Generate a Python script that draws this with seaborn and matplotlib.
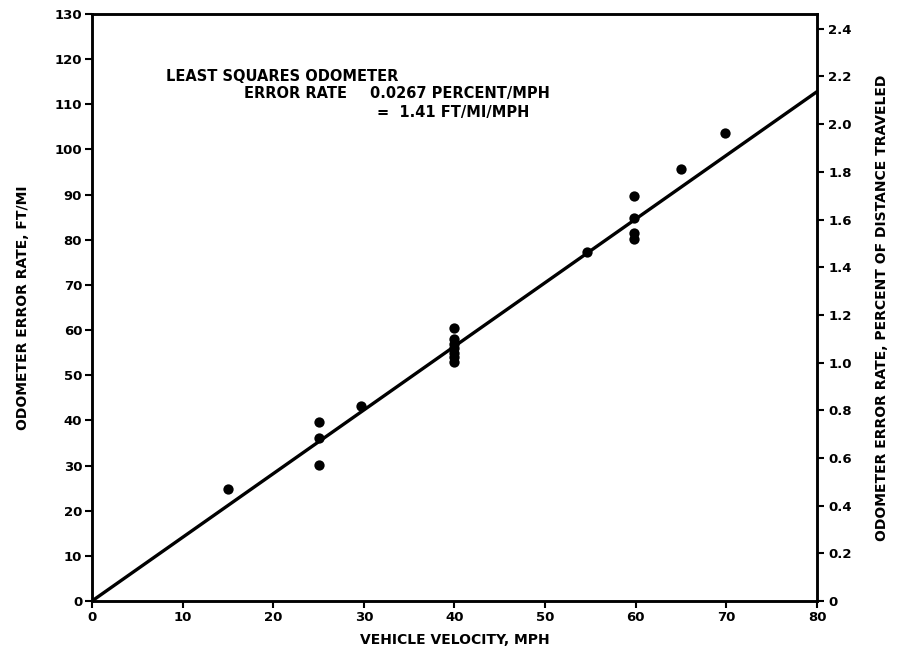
import numpy as np
import pandas as pd
import seaborn as sns
import matplotlib
matplotlib.use('Agg')
import matplotlib.pyplot as plt
from matplotlib.ticker import FuncFormatter

velocity = [15, 25, 25, 25, 29.7, 40, 40, 40, 40, 40, 40, 40,
            54.6, 59.8, 59.8, 59.8, 59.8, 65, 69.8]
error_ft_mi = [24.8, 39.6, 36.0, 30.2, 43.2, 60.4, 58, 57, 56, 55, 54, 53,
               77.2, 89.7, 84.8, 81.5, 80.2, 95.6, 103.7]

# least squares line (1.41 ft/mi/mph)
fit_velocity = [0, 80]
fit_error = [0, 112.8]

x_ticks = [0, 10, 20, 30, 40, 50, 60, 70, 80]
left_ticks = list(range(0, 131, 10))
right_ticks = [0, 0.2, 0.4, 0.6, 0.8, 1.0, 1.2, 1.4, 1.6, 1.8, 2.0, 2.2, 2.4]
FT_PER_PERCENT = 52.8

sns.set_style('ticks', {'axes.edgecolor': 'black', 'text.color': 'black',
                        'axes.labelcolor': 'black', 'xtick.color': 'black',
                        'ytick.color': 'black'})
plt.rcParams['font.family'] = ['DejaVu Sans']
plt.rcParams['font.weight'] = 'bold'

fig = plt.figure(figsize=(8.98, 6.53), dpi=100)
ax = fig.add_axes([0.1024, 0.0796, 0.8074, 0.899])

pts = pd.DataFrame({'v': velocity, 'e': error_ft_mi})
fit = pd.DataFrame({'v': fit_velocity, 'e': fit_error})

sns.lineplot(data=fit, x='v', y='e', ax=ax, color='black', linewidth=2.4)
sns.scatterplot(data=pts, x='v', y='e', ax=ax, color='black', s=55,
                edgecolor='black', linewidth=0, zorder=3)

ax.set_xlim(0, 80)
ax.set_ylim(0, 130)
ax.set_xticks(x_ticks)
ax.set_yticks(left_ticks)
ax.set_xlabel('VEHICLE VELOCITY, MPH', fontsize=10, fontweight='bold', labelpad=7)
ax.set_ylabel('ODOMETER ERROR RATE, FT/MI', fontsize=10, fontweight='bold', labelpad=18)
ax.tick_params(labelsize=9.5, width=1.5, length=5, direction='out', pad=2)
for sp in ax.spines.values():
    sp.set_visible(True)
    sp.set_linewidth(1.8)

ax2 = ax.twinx()
ax2.set_ylim(0, 130 / FT_PER_PERCENT)
ax2.set_yticks(right_ticks)
ax2.yaxis.set_major_formatter(FuncFormatter(lambda v, p: '0' if v == 0 else f'{v:.1f}'))
ax2.set_ylabel('ODOMETER ERROR RATE, PERCENT OF DISTANCE TRAVELED',
               fontsize=10, fontweight='bold', labelpad=17)
ax2.tick_params(labelsize=9.5, width=1.5, length=5, direction='out', pad=3)
for sp in ax2.spines.values():
    sp.set_visible(True)
    sp.set_linewidth(1.8)

ax.text(8.2, 115.2, 'LEAST SQUARES ODOMETER', fontsize=10.5, fontweight='bold', va='baseline')
ax.text(16.8, 111.5, 'ERROR RATE', fontsize=10.5, fontweight='bold', va='baseline')
ax.text(30.7, 111.5, '0.0267 PERCENT/MPH', fontsize=10.5, fontweight='bold', va='baseline')
ax.text(31.4, 107.1, '=  1.41 FT/MI/MPH', fontsize=10.5, fontweight='bold', va='baseline')

plt.savefig('out.png', dpi=100)
